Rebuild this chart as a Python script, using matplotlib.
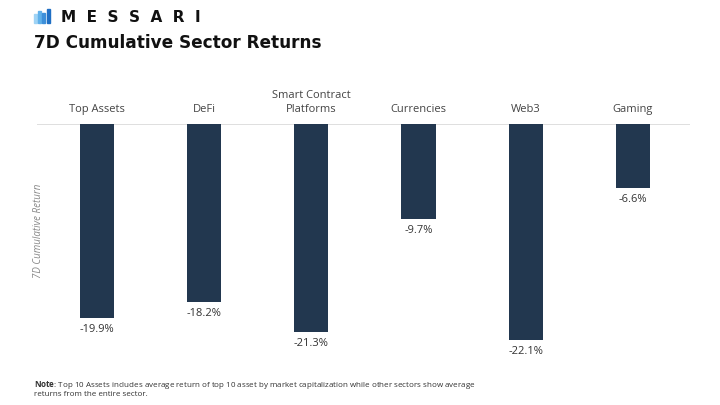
import matplotlib.pyplot as plt
from matplotlib.patches import Rectangle

categories = ["Top Assets", "DeFi", "Smart Contract\nPlatforms", "Currencies", "Web3", "Gaming"]
returns = [-19.9, -18.2, -21.3, -9.7, -22.1, -6.6]

BAR_COLOR = "#22374f"
TEXT_COLOR = "#333333"

plt.rcParams["mathtext.fontset"] = "custom"
plt.rcParams["mathtext.bf"] = "Open Sans:bold"
plt.rcParams["mathtext.rm"] = "Open Sans"

fig = plt.figure(figsize=(7.2, 4.05), dpi=100)
ax = fig.add_axes([0.051, 0.115, 0.907, 0.579])

x = list(range(len(categories)))
ax.bar(x, returns, width=0.32, color=BAR_COLOR, zorder=2)
ax.axhline(0, color="#d9d9d9", lw=1.2, zorder=1)

for xi, v in zip(x, returns):
    ax.text(xi, v - 0.6, f"{v:.1f}%", ha="center", va="top",
            fontsize=8, color=TEXT_COLOR, family="Open Sans")

for xi, c in zip(x, categories):
    ax.text(xi, 0.9, c, ha="center", va="bottom", fontsize=8,
            color="#444444", family="Open Sans", linespacing=1.35)

ax.set_xlim(-0.56, 5.53)
ax.set_ylim(-24, 0)
ax.axis("off")

fig.text(0.053, 0.43, "7D Cumulative Return", rotation=90, ha="center", va="center",
         fontsize=7, style="italic", color="#888888", family="Open Sans")

# logo and title
for dx, h, col in [(0, 0.022, "#9fd3f5"), (0.006, 0.03, "#5fb0ea"),
                   (0.012, 0.026, "#3d8fd9"), (0.018, 0.036, "#1f6fc4")]:
    fig.patches.append(Rectangle((0.047 + dx, 0.943), 0.004, h, transform=fig.transFigure,
                                 color=col))
fig.text(0.085, 0.958, "M  E  S  S  A  R  I", fontsize=11, fontweight="bold",
         color="#111111", va="center", family="DejaVu Sans")
fig.text(0.047, 0.893, "7D Cumulative Sector Returns", fontsize=12.2, fontweight="bold",
         color="#111111", va="center", family="DejaVu Sans")

fig.text(0.047, 0.050, r"$\bf{Note}$: Top 10 Assets includes average return of top 10 asset by market "
         "capitalization while other sectors show average", fontsize=5.8, color="#333333",
         family="Open Sans", va="center")
fig.text(0.047, 0.026, "returns from the entire sector.", fontsize=5.8, color="#333333",
         family="Open Sans", va="center")

fig.savefig("out.png", dpi=100)
